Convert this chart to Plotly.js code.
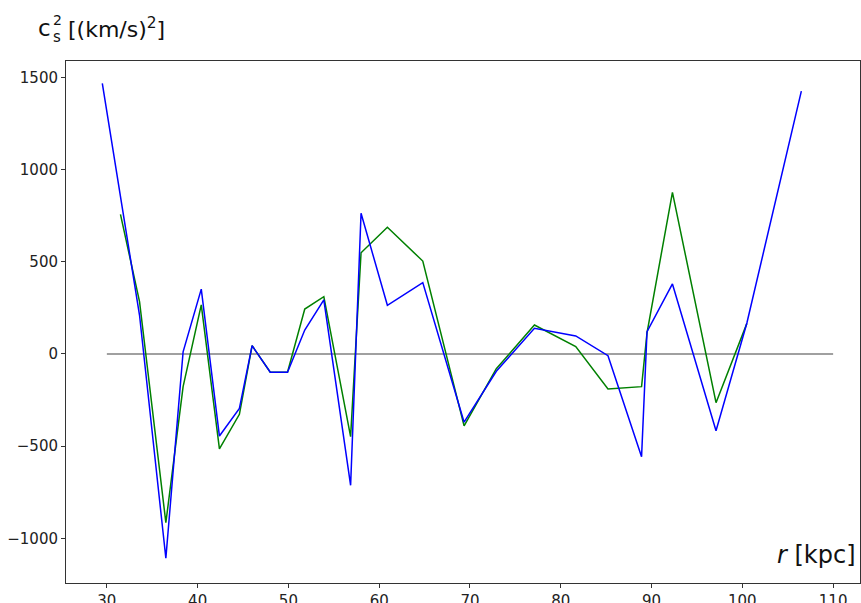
<!DOCTYPE html>
<html>
<head>
<meta charset="utf-8">
<script src="https://cdn.plot.ly/plotly-3.0.1.min.js"></script>
<style>html,body{margin:0;padding:0;background:#fff;}#chart{width:861px;height:603px;}</style>
</head>
<body>
<div id="chart"></div>
<script>
// Blue series
const rBlue = [29.5, 33.6, 36.5, 38.4, 40.4, 42.4, 44.6, 46.0, 48.0, 49.9, 51.8, 53.9, 56.85, 58.0, 60.9, 64.8, 69.35, 72.9, 77.1, 81.65, 85.2, 88.9, 89.5, 92.3, 97.1, 100.5, 106.5];
const csBlue = [1468, 210, -1108, 12, 352, -445, -295, 45, -99, -99, 130, 293, -712, 763, 264, 387, -370, -94, 139, 98, -9, -557, 121, 380, -416, 168, 1426];
// Green series
const rGreen = [31.5, 33.6, 36.5, 38.4, 40.4, 42.4, 44.6, 46.0, 48.0, 49.9, 51.8, 53.9, 56.85, 58.0, 60.9, 64.8, 69.35, 72.9, 77.1, 81.65, 85.2, 88.9, 89.5, 92.3, 97.1, 100.5];
const csGreen = [757, 284, -915, -177, 266, -515, -327, 45, -99, -99, 244, 311, -448, 549, 687, 504, -390, -80, 157, 40, -190, -177, 115, 877, -264, 166];
// Zero reference line
const rZero = [30, 110];
const csZero = [0, 0];
const xTicks = [30, 40, 50, 60, 70, 80, 90, 100, 110];
const yTicks = [-1000, -500, 0, 500, 1000, 1500];

const traces = [
  {x: rZero, y: csZero, mode: 'lines', line: {color: '#808080', width: 1.5}, hoverinfo: 'skip'},
  {x: rGreen, y: csGreen, mode: 'lines', line: {color: 'green', width: 1.5}},
  {x: rBlue, y: csBlue, mode: 'lines', line: {color: 'blue', width: 1.5}}
];

const axisCommon = {
  showline: true, mirror: true, linecolor: '#333', linewidth: 1,
  ticks: 'outside', ticklen: 4, tickwidth: 1, tickcolor: '#333',
  showgrid: false, zeroline: false,
  tickfont: {family: 'DejaVu Sans', size: 15, color: '#222'}
};

// pixel -> paper helpers (plot area: left 66, width 794, top 61, height 522)
const PL = 66, PW = 794, PT = 61, PH = 522;
const px = v => (v - PL) / PW;
const py = v => (PT + PH - v) / PH;
const tfont = s => ({family: 'DejaVu Sans', size: s, color: '#111'});

const layout = {
  width: 861, height: 603,
  margin: {l: 66, r: 1, t: 61, b: 20},
  paper_bgcolor: '#fff', plot_bgcolor: '#fff',
  showlegend: false,
  xaxis: Object.assign({}, axisCommon, {range: [25.5, 112.96], tickvals: xTicks, ticktext: xTicks.map(String)}),
  yaxis: Object.assign({}, axisCommon, {range: [-1242, 1589], tickvals: yTicks}),
  annotations: [
    {text: 'c', xref: 'paper', yref: 'paper', x: px(36), y: py(28), xanchor: 'left', yanchor: 'middle',
     showarrow: false, font: tfont(23)},
    {text: '2', xref: 'paper', yref: 'paper', x: px(51), y: py(20), xanchor: 'left', yanchor: 'middle',
     showarrow: false, font: tfont(14)},
    {text: 's', xref: 'paper', yref: 'paper', x: px(51), y: py(37), xanchor: 'left', yanchor: 'middle',
     showarrow: false, font: tfont(15)},
    {text: '[(km/s)<sup>2</sup>]', xref: 'paper', yref: 'paper', x: px(66), y: py(28), xanchor: 'left', yanchor: 'middle',
     showarrow: false, font: tfont(22)},
    {text: '<i>r</i> [kpc]', xref: 'paper', yref: 'paper',
     x: 0.997, y: py(555), xanchor: 'right', yanchor: 'middle', showarrow: false,
     font: tfont(24)}
  ]
};

Plotly.newPlot('chart', traces, layout, {displayModeBar: false, staticPlot: true});
</script>
</body>
</html>
